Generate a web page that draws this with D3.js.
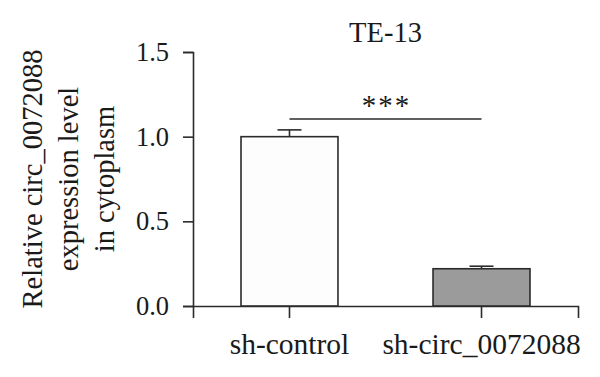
<!DOCTYPE html>
<html>
<head>
<meta charset="UTF-8">
<script src="https://d3js.org/d3.v7.min.js"></script>
<style>
  body { margin: 0; background: #fff; }
  text { font-family: "Liberation Serif", "DejaVu Serif", serif; fill: #1a1a1a; }
</style>
</head>
<body>
<svg width="600" height="377"></svg>
<script>
// data
const groups = ["sh-control", "sh-circ_0072088"];
const means = [1.0, 0.22];
const errors = [0.04, 0.015];
const fills = ["#fdfdfd", "#9b9b9b"];
const yTicks = [0.0, 0.5, 1.0, 1.5];
const title = "TE-13";
const yLabel = ["Relative circ_0072088", "expression level", "in cytoplasm"];
const sigMark = "***";

const svg = d3.select("svg");
const ink = "#2b2b2b";

const x = d3.scaleBand()
  .domain(groups)
  .range([193, 578])
  .paddingInner(0.495)
  .paddingOuter(0.25);

const y = d3.scaleLinear()
  .domain([0, 1.5])
  .range([306, 52]);

// y axis
const yAxis = svg.append("g")
  .attr("transform", "translate(193,0)")
  .call(d3.axisLeft(y).tickValues(yTicks).tickFormat(d3.format(".1f")).tickSize(10).tickPadding(14));
yAxis.select(".domain").attr("stroke", ink).attr("stroke-width", 1.6);
yAxis.selectAll(".tick line").attr("stroke", ink).attr("stroke-width", 1.6);
yAxis.selectAll(".tick text")
  .attr("font-family", "Liberation Serif")
  .attr("font-size", 26.5)
  .attr("fill", "#1a1a1a");

// x axis
const xAxis = svg.append("g")
  .attr("transform", "translate(0,306)")
  .call(d3.axisBottom(x).tickSizeOuter(0).tickSize(12).tickPadding(15));
xAxis.select(".domain").attr("stroke", ink).attr("stroke-width", 1.6);
xAxis.selectAll(".tick line").attr("stroke", ink).attr("stroke-width", 1.6);
xAxis.selectAll(".tick text")
  .attr("font-family", "Liberation Serif")
  .attr("font-size", 29.5)
  .attr("fill", "#1a1a1a");

// bars
svg.selectAll("rect.bar")
  .data(groups)
  .join("rect")
  .attr("class", "bar")
  .attr("x", d => x(d))
  .attr("width", x.bandwidth())
  .attr("y", (d, i) => y(means[i]))
  .attr("height", (d, i) => y(0) - y(means[i]))
  .attr("fill", (d, i) => fills[i])
  .attr("stroke", ink)
  .attr("stroke-width", 1.6);

// error bars (upper only)
const cap = 12;
groups.forEach((g, i) => {
  const cx = x(g) + x.bandwidth() / 2;
  svg.append("line")
    .attr("x1", cx).attr("x2", cx)
    .attr("y1", y(means[i])).attr("y2", y(means[i] + errors[i]))
    .attr("stroke", ink).attr("stroke-width", 1.6);
  svg.append("line")
    .attr("x1", cx - cap).attr("x2", cx + cap)
    .attr("y1", y(means[i] + errors[i])).attr("y2", y(means[i] + errors[i]))
    .attr("stroke", ink).attr("stroke-width", 1.6);
});

// significance bracket
const c1 = x(groups[0]) + x.bandwidth() / 2;
const c2 = x(groups[1]) + x.bandwidth() / 2;
svg.append("line")
  .attr("x1", c1).attr("x2", c2)
  .attr("y1", 119).attr("y2", 119)
  .attr("stroke", ink).attr("stroke-width", 1.6);
svg.append("text")
  .attr("x", (c1 + c2) / 2 + 1)
  .attr("y", 115)
  .attr("text-anchor", "middle")
  .attr("font-size", 29)
  .attr("letter-spacing", 2)
  .text(sigMark);

// title
svg.append("text")
  .attr("x", (193 + 578) / 2)
  .attr("y", 42)
  .attr("text-anchor", "middle")
  .attr("font-size", 28.5)
  .text(title);

// y label
const yl = svg.append("text")
  .attr("transform", `translate(0,${(52 + 306) / 2}) rotate(-90)`)
  .attr("text-anchor", "middle")
  .attr("font-size", 28.5);
yLabel.forEach((line, i) => {
  yl.append("tspan")
    .attr("x", 0)
    .attr("y", 42 + i * 36)
    .text(line);
});
</script>
</body>
</html>
